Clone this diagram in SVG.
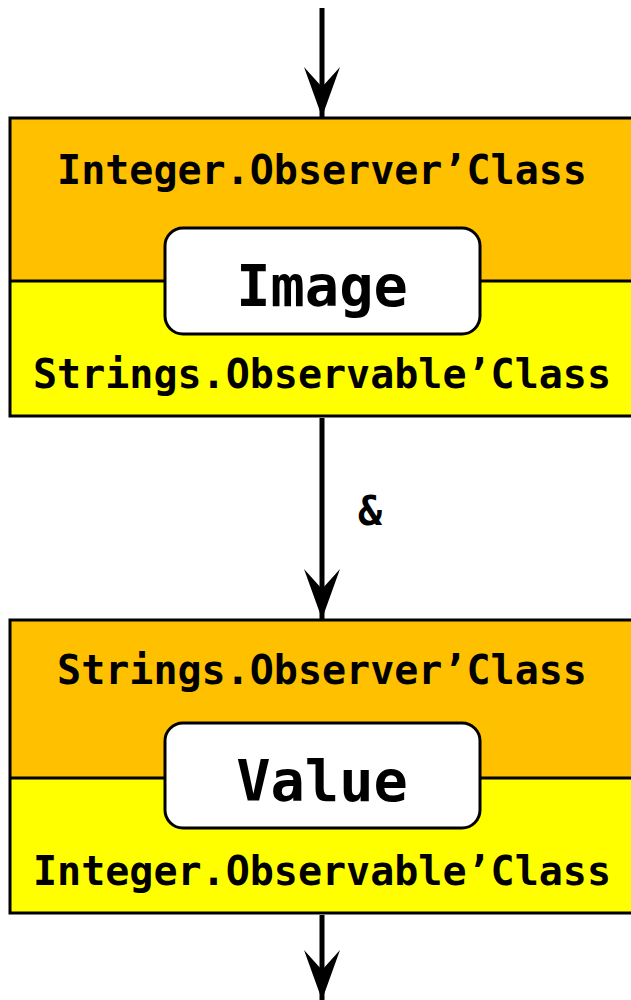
<svg xmlns="http://www.w3.org/2000/svg" width="631" height="1000" viewBox="0 0 631 1000">
<style>
.frame{stroke:#000;stroke-width:3}
.top{fill:#FFC000}
.bot{fill:#FFFF00}
.inner{fill:#fff;stroke:#000;stroke-width:3}
.t{font-family:"DejaVu Sans Mono","Liberation Mono",monospace;font-weight:bold;fill:#000;text-anchor:middle}
.s{font-size:40px}
.b{font-size:57px}
.edge{stroke:#000;stroke-width:5;fill:none}
</style>
<defs>
<marker id="ah" markerUnits="userSpaceOnUse" markerWidth="54" markerHeight="40" viewBox="-52 -20 54 40" refX="0" refY="0" orient="auto">
<path d="M0,0 L-50,-18 L-30,0 L-50,18 Z" fill="#000"/>
</marker>
</defs>
<g id="connectors">
<path class="edge" d="M322,8 L322,117" marker-end="url(#ah)"/>
<path class="edge" d="M322,418 L322,619" marker-end="url(#ah)"/>
<text class="t s" x="370" y="525">&amp;</text>
<path class="edge" d="M322,915 L322,1000" marker-end="url(#ah)"/>
</g>
<g id="node1">
<rect class="top" x="10" y="118" width="625" height="163"/>
<rect class="bot" x="10" y="281" width="625" height="135"/>
<rect class="frame" x="10" y="118" width="625" height="298" fill="none"/>
<line class="frame" x1="10" y1="281" x2="635" y2="281"/>
<text class="t s" x="322" y="184">Integer.Observer’Class</text>
<rect class="inner" x="165" y="228" width="315" height="106" rx="18"/>
<text class="t b" x="322" y="306">Image</text>
<text class="t s" x="322" y="388">Strings.Observable’Class</text>
</g>
<g id="node2">
<rect class="top" x="10" y="620" width="625" height="158"/>
<rect class="bot" x="10" y="778" width="625" height="135"/>
<rect class="frame" x="10" y="620" width="625" height="293" fill="none"/>
<line class="frame" x1="10" y1="778" x2="635" y2="778"/>
<text class="t s" x="322" y="684">Strings.Observer’Class</text>
<rect class="inner" x="165" y="723" width="315" height="105" rx="18"/>
<text class="t b" x="322" y="801">Value</text>
<text class="t s" x="322" y="885">Integer.Observable’Class</text>
</g>
</svg>
